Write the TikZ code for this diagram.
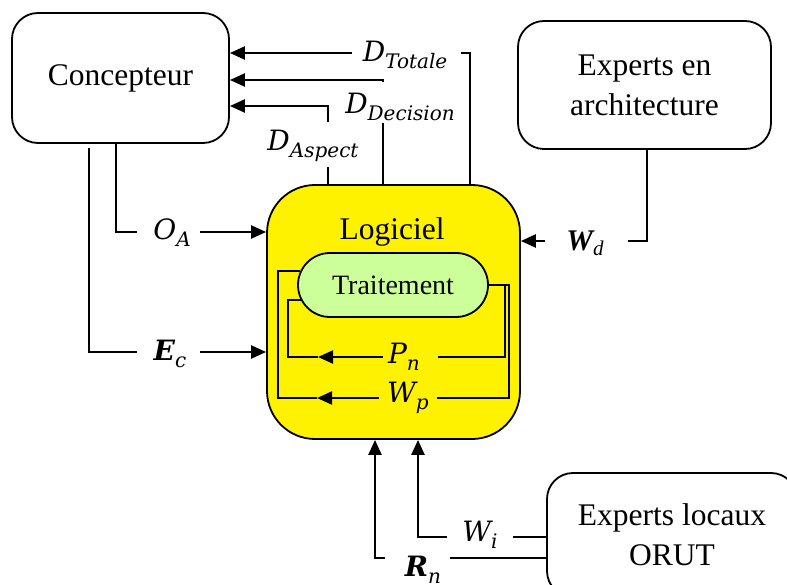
\documentclass[tikz,border=0pt]{standalone}
\usepackage{fontspec}
\setmainfont{Liberation Serif}
\newfontfamily\lfont{DejaVu Serif}
\usetikzlibrary{arrows.meta}
\definecolor{tgreen}{HTML}{CCFF99}
\newcommand\lbl[2]{{\fontsize{28}{30}\lfont\itshape #1}\raisebox{-7pt}{\fontsize{20}{20}\lfont\itshape #2}}
\newcommand\lblb[2]{{\fontsize{28}{30}\lfont\bfseries\itshape #1}\raisebox{-7pt}{\fontsize{20}{20}\lfont\itshape #2}}
\begin{document}
\begin{tikzpicture}[x=1pt,y=-1pt,
  box/.style={draw,line width=1.8pt,rounded corners=26pt,inner sep=0pt,align=center,font=\fontsize{31.5}{40}\selectfont},
  conn/.style={line width=2.4pt},
  lp/.style={line width=2pt},
  arr/.style={-{Triangle[length=15pt,width=13pt]}},
  lab/.style={inner sep=0pt}]
\useasboundingbox (0,0) rectangle (787,585);
\clip (0,0) rectangle (787,585);
% boxes
\node[box,minimum width=217pt,minimum height=130pt] (conc) at (120.5,78) {Concepteur};
\node[box,minimum width=253pt,minimum height=128pt] (arch) at (644.5,85) {Experts en\\architecture};
\node[box,minimum width=250pt,minimum height=124pt] (loc) at (672,535) {Experts locaux\\ORUT};
\node[draw,line width=1.8pt,fill=yellow,rounded corners=48pt,minimum width=253pt,minimum height=254pt] (logi) at (393.5,312) {};
\node[font=\fontsize{31.5}{40}\selectfont] (logt) at (392,232) {Logiciel};
\node[draw,line width=1.8pt,fill=tgreen,rounded corners=32pt,minimum width=190pt,minimum height=64pt,inner sep=0pt,font=\fontsize{28}{34}\selectfont] (trait) at (393,285) {Traitement};
% labels
\node[lab] (dt) at (405,55) {\lbl{D}{Totale}};
\node[lab] (dd) at (400,107) {\lbl{D}{Decision}};
\node[lab] (da) at (313,146) {\lbl{D}{Aspect}};
\node[lab] (oa) at (172,233) {\lbl{O}{A}};
\node[lab] (ec) at (170,354) {\lblb{E}{c}};
\node[lab] (wd) at (585,243) {{\fontsize{30}{32}\selectfont\bfseries\itshape W}\raisebox{-5pt}{\fontsize{21}{21}\selectfont\itshape d}};
\node[lab] (pn) at (404,357) {\lbl{P}{n}};
\node[lab] (wp) at (408,398) {\lbl{W}{p}};
\node[lab] (wi) at (480,535) {\lbl{W}{i}};
\node[lab] (rn) at (423,570) {\lblb{R}{n}};
% top connectors
\draw[conn] (logi.north -| 470,0) -- (470,53) -- (461,53);
\draw[conn,arr] (352,53) -- (conc.east |- 0,53);
\draw[conn] (logi.north -| 383,0) -- (383,123);
\draw[conn,arr] (383,82) -- (383,80) -- (conc.east |- 0,80);
\draw[conn] (logi.north -| 328,0) -- (328,167);
\draw[conn,arr] (328,122) -- (328,106) -- (conc.east |- 0,106);
% left connectors
\draw[conn] (conc.south -| 116,0) |- (137,232);
\draw[conn,arr] (200,232) -- (logi.west |- 0,232);
\draw[conn] (89,148) |- (137,352);
\draw[conn,arr] (200,352) -- (logi.west |- 0,352);
% right connector
\draw[conn] (arch.south -| 647,0) |- (628,241);
\draw[conn,arr] (545,241) -- (logi.east |- 0,241);
% bottom connectors
\draw[conn] (loc.west |- 0,558) -- (450,558);
\draw[conn,arr] (385,558) -| (logi.south -| 375,0);
\draw[conn] (loc.west |- 0,537) -- (513,537);
\draw[conn,arr] (447,537) -| (logi.south -| 418,0);
% inner loops
\draw[lp] (trait.east) -- (505,285) -- (505,357) -- (438,357);
\draw[lp,arr] (383,357) -- (318,357);
\draw[lp] (318,357) -- (288,357) -- (288,300) -- (302,300);
\draw[lp] (trait.east) -- (509,285) -- (509,398) -- (437,398);
\draw[lp,arr] (379,398) -- (317,398);
\draw[lp] (317,398) -- (278,398) -- (278,271) -- (300,271);
\end{tikzpicture}
\end{document}
